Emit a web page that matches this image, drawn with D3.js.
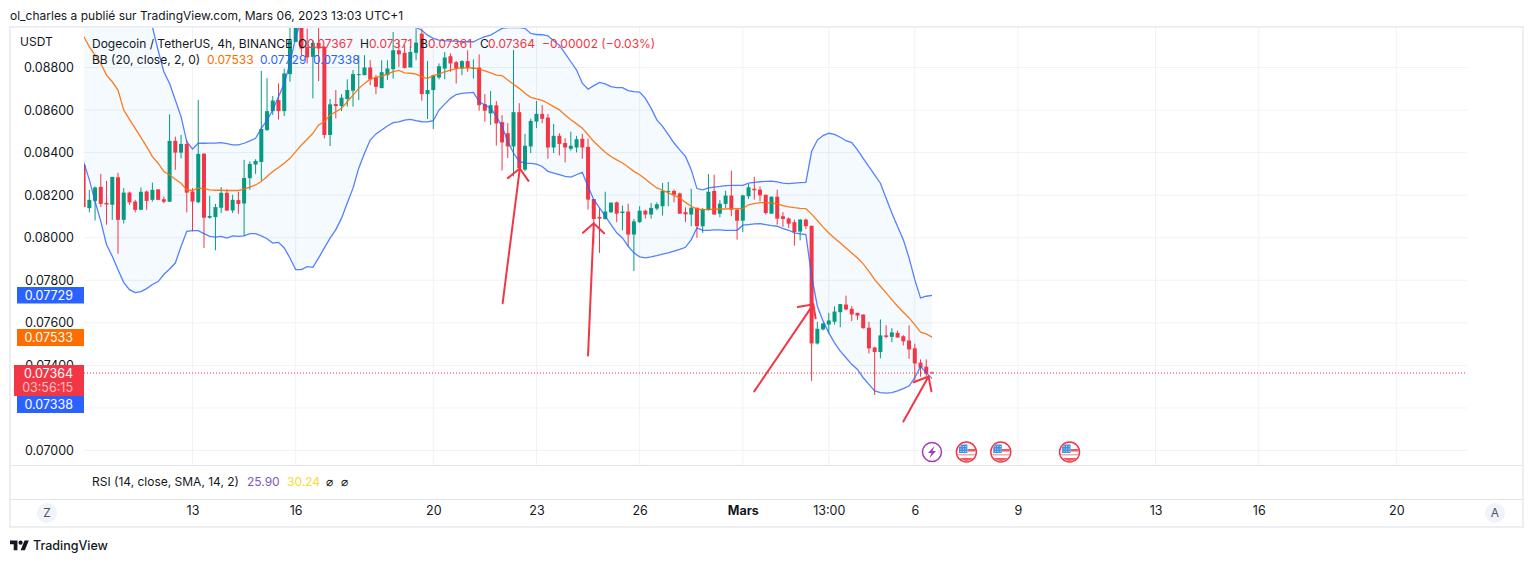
<!DOCTYPE html>
<html>
<head>
<meta charset="utf-8">
<title>DOGEUSDT</title>
<script src="https://cdn.jsdelivr.net/npm/d3@7/dist/d3.min.js"></script>
<style>
html, body { margin: 0; background: #fff; overflow: hidden; }
text { font-family: Inter, "Noto Sans", sans-serif; font-size: 12px; fill: #131722; }
</style>
</head>
<body>
<div id="chart"></div>
<script>
// all prices in 1e-5 USDT, one entry per 4h candle
const open = [8342,8139,8173,8239,8164,8155,8284,8084,8212,8170,
8131,8217,8178,8227,8181,8169,8455,8400,8441,8217,
8167,8395,8094,8097,8141,8211,8128,8177,8161,8280,
8344,8356,8506,8595,8647,8595,8769,8920,9000,8897,
8850,8916,8897,8483,8628,8619,8652,8691,8766,8764,
8800,8752,8703,8764,8792,8881,8869,8800,8869,8959,
8675,8694,8753,8795,8853,8825,8795,8830,8795,8800,
8628,8584,8622,8543,8491,8429,8590,8320,8429,8546,
8582,8565,8424,8479,8445,8418,8424,8465,8427,8182,
8098,8088,8120,8166,8116,8123,8015,8073,8127,8109,
8137,8148,8217,8220,8208,8120,8109,8141,8054,8132,
8220,8113,8159,8198,8132,8080,8195,8230,8226,8202,
8113,8193,8101,8090,8073,8029,8085,8056,7503,7569,
7592,7605,7650,7686,7666,7647,7639,7577,7484,7463,
7541,7534,7553,7537,7517,7480,7413,7394,7367];
const high = [8350,8225,8241,8300,8267,8286,8305,8233,8217,8178,
8236,8222,8259,8228,8194,8580,8475,8483,8459,8233,
8647,8397,8197,8159,8238,8228,8202,8216,8366,8359,
8369,8784,8750,8666,8725,8795,8991,9060,9050,8983,
8928,8991,8900,8652,8694,8675,8744,8788,8858,8858,
8834,8764,8834,8834,8967,8928,8905,8897,8983,8983,
8831,8763,8819,8873,8866,8830,8834,8881,8838,8862,
8675,8689,8642,8576,8538,8882,8632,8488,8560,8643,
8624,8582,8535,8491,8468,8498,8479,8488,8466,8182,
8140,8216,8165,8170,8151,8160,8088,8148,8132,8163,
8166,8257,8262,8226,8212,8143,8230,8141,8140,8299,
8296,8177,8221,8315,8135,8202,8252,8287,8241,8202,
8193,8226,8120,8096,8085,8088,8090,8056,7605,7600,
7647,7677,7688,7728,7678,7647,7639,7605,7488,7616,
7589,7575,7563,7542,7588,7502,7428,7428,7371];
const low = [8144,8119,8081,8144,8061,8084,7925,8067,8155,8119,
8131,8131,8170,8178,8162,8169,8319,8373,8119,8030,
8162,7952,8089,7941,8116,8125,8116,8113,8009,8225,
8300,8267,8503,8577,8556,8572,8733,8920,8858,8819,
8655,8736,8467,8431,8561,8595,8616,8616,8647,8764,
8717,8675,8703,8741,8748,8803,8795,8803,8834,8644,
8558,8511,8744,8745,8780,8725,8764,8780,8748,8597,
8545,8530,8433,8316,8374,8288,8320,8312,8398,8515,
8538,8371,8398,8387,8354,8409,8401,8371,8132,7968,
7929,8085,8116,8073,8035,7960,7843,8070,8090,8090,
8129,8104,8148,8166,8113,8074,8054,7999,8023,8127,
8109,8096,8140,8101,7991,8026,8182,8179,8171,8109,
8113,8062,8051,8046,7963,7988,8041,7327,7498,7564,
7550,7592,7580,7658,7608,7613,7573,7456,7261,7433,
7527,7509,7531,7494,7431,7327,7347,7350,7361];
const close = [8144,8178,8236,8159,8156,8286,8084,8212,8166,8131,
8216,8173,8225,8178,8169,8455,8400,8441,8212,8170,
8394,8094,8102,8144,8211,8128,8178,8159,8281,8347,
8361,8511,8595,8645,8595,8772,8928,9000,8889,8847,
8916,8889,8483,8627,8619,8658,8694,8769,8769,8800,
8744,8709,8778,8795,8881,8862,8798,8873,8917,8675,
8694,8763,8806,8847,8819,8795,8830,8797,8798,8623,
8597,8623,8537,8448,8429,8590,8327,8432,8549,8582,
8559,8424,8479,8441,8424,8432,8463,8424,8179,8088,
8090,8123,8165,8113,8123,8015,8077,8127,8109,8140,
8157,8220,8220,8202,8113,8110,8141,8054,8135,8216,
8109,8160,8198,8132,8080,8199,8237,8223,8199,8116,
8193,8090,8088,8066,8027,8085,8054,7503,7572,7597,
7611,7653,7688,7663,7639,7634,7575,7480,7463,7541,
7534,7555,7531,7513,7475,7409,7389,7361,7364];

// bollinger bands, the off-chart stretches of the upper one are estimates
const bbUpper = [9538,9522,9546,9561,9561,9553,9538,9411,9356,9286,
9197,9095,8991,8881,8780,8725,8647,8569,8452,8417,
8444,8444,8445,8445,8447,8442,8436,8436,8444,8455,
8467,8514,8553,8600,8663,8725,8819,8944,9022,9062,
9121,9155,9138,9156,9146,9124,9115,9107,9077,9053,
9031,9018,9012,9013,9021,9028,8997,8990,8988,8975,
8952,8937,8929,8926,8924,8924,8921,8921,8921,8934,
8945,8952,8968,8984,8988,8988,8987,8984,8960,8955,
8954,8949,8926,8905,8866,8827,8788,8726,8698,8715,
8730,8723,8710,8705,8705,8691,8687,8684,8655,8609,
8554,8523,8484,8445,8413,8382,8320,8231,8225,8234,
8238,8241,8245,8246,8246,8246,8257,8260,8263,8265,
8266,8262,8257,8254,8257,8259,8260,8405,8459,8480,
8491,8486,8472,8456,8447,8413,8373,8334,8295,8256,
8186,8116,8053,7991,7905,7803,7717,7725,7729];
const bbBasis = [8947,8897,8858,8819,8764,8733,8694,8600,8556,8514,
8472,8428,8381,8350,8311,8295,8275,8256,8225,8222,
8233,8231,8225,8223,8223,8222,8222,8222,8228,8238,
8248,8264,8288,8311,8330,8350,8373,8405,8436,8463,
8491,8530,8545,8577,8592,8608,8639,8670,8702,8725,
8745,8753,8759,8769,8781,8786,8775,8773,8769,8756,
8748,8763,8769,8780,8788,8795,8798,8798,8798,8792,
8784,8775,8764,8762,8741,8721,8702,8679,8660,8652,
8645,8632,8616,8601,8577,8554,8535,8515,8484,8452,
8426,8402,8382,8366,8351,8332,8312,8296,8276,8254,
8234,8223,8211,8199,8187,8166,8148,8135,8132,8132,
8134,8135,8135,8137,8137,8137,8155,8160,8165,8165,
8163,8159,8151,8145,8141,8138,8137,8111,8081,8050,
8022,7998,7975,7952,7928,7905,7877,7842,7803,7772,
7741,7709,7678,7650,7623,7592,7556,7548,7533];
const bbLower = [8356,8272,8170,8077,7967,7913,7850,7789,7756,7742,
7747,7761,7780,7794,7827,7853,7881,7959,8030,8033,
8033,8019,8006,8003,8006,7998,8009,8006,8009,8019,
8019,8009,7995,7975,7978,7952,7905,7850,7850,7864,
7861,7905,7952,7998,8038,8092,8163,8233,8327,8397,
8459,8488,8506,8525,8541,8544,8553,8556,8550,8545,
8544,8550,8600,8628,8655,8673,8678,8681,8683,8640,
8624,8609,8570,8523,8452,8398,8359,8351,8349,8346,
8335,8312,8304,8296,8288,8285,8296,8307,8241,8179,
8140,8101,8062,8023,7999,7960,7929,7910,7905,7910,
7916,7923,7929,7937,7945,7955,7991,8046,8035,8035,
8037,8037,8035,8035,8035,8059,8062,8065,8066,8062,
8057,8054,8043,8035,8023,8018,8015,7819,7678,7608,
7553,7506,7467,7436,7405,7381,7342,7311,7280,7272,
7270,7272,7280,7291,7303,7342,7394,7366,7338];

const gridPrices = [8800,8600,8400,8200,8000,7800,7600,7400,7200,7000];
const labelPrices = [8800,8600,8400,8200,8000,7800,7600,7400,7000];
const timeIdx = [19,37,61,79,97,115,130,145,163,187,205,229];
const timeLabels = ["13","16","20","23","26","Mars","13:00","6","9","13","16","20"];
const eventIdx = [148,154,160,172];
const eventKinds = ["bolt","flag","flag","flag"];

// hand drawn arrows: tail, tip, wing, wing as [candle index, price]
const arrows = [
  [[73.1,7692],[76.1,8326],[74.0,8280],[77.6,8267]],
  [[88.0,7447],[89.0,8068],[87.1,8023],[90.8,8021]],
  [[117.0,7278],[127.3,7687],[124.6,7674],[127.7,7621]],
  [[143.0,7136],[147.4,7348],[144.8,7321],[147.9,7278]]
];

const width = 1533, height = 562;
const red = "#f23645", green = "#089981", blue = "#2962ff", orange = "#ff6d00";
const plot = { left: 84, right: 1467, top: 28, bottom: 465 };
const fmt = d => (d / 1e5).toFixed(5);

const x = d3.scaleLinear().domain([0, 229]).range([83.6, 1396.3]);
const y = d3.scaleLinear().domain([7000, 8800]).range([450.5, 67.5]);

const svg = d3.select("#chart").append("svg")
  .attr("width", width)
  .attr("height", height)
  .style("display", "block");

const defs = svg.append("defs");
defs.append("clipPath").attr("id", "plot-clip")
  .append("rect")
  .attr("x", plot.left).attr("y", plot.top)
  .attr("width", plot.right - plot.left).attr("height", plot.bottom - plot.top);
defs.append("clipPath").attr("id", "flag-clip")
  .append("circle").attr("r", 9);

// frame
svg.append("rect")
  .attr("x", 10).attr("y", 27).attr("width", 1513).attr("height", 500)
  .attr("fill", "none").attr("stroke", "#eceef4").attr("stroke-width", 2);
svg.append("line").attr("x1", 11).attr("x2", 1522).attr("y1", 465.5).attr("y2", 465.5).attr("stroke", "#e0e3eb");
svg.append("line").attr("x1", 11).attr("x2", 1522).attr("y1", 499.5).attr("y2", 499.5).attr("stroke", "#e0e3eb");

svg.append("text").attr("x", 10).attr("y", 20).text("ol_charles a publié sur TradingView.com, Mars 06, 2023 13:03 UTC+1");

// grid
const grid = svg.append("g").attr("fill", "none").attr("stroke", "#f0f2f5");
grid.selectAll(".gh").data(gridPrices).join("line").attr("class", "gh")
  .attr("x1", plot.left).attr("x2", plot.right)
  .attr("y1", d => y(d)).attr("y2", d => y(d));
grid.selectAll(".gv").data(timeIdx).join("line").attr("class", "gv")
  .attr("x1", d => x(d)).attr("x2", d => x(d))
  .attr("y1", plot.top).attr("y2", plot.bottom);

const chart = svg.append("g").attr("clip-path", "url(#plot-clip)");

// band fill
const area = d3.area().x((d, i) => x(i)).y0((d, i) => y(bbLower[i])).y1(d => y(d));
chart.append("path").datum(bbUpper)
  .attr("d", area)
  .attr("fill", "#2196f3").attr("fill-opacity", 0.05);

// candles
const candles = chart.selectAll(".candle").data(d3.range(open.length)).join("g").attr("class", "candle");
candles.append("line")
  .attr("x1", i => x(i)).attr("x2", i => x(i))
  .attr("y1", i => y(high[i])).attr("y2", i => y(low[i]))
  .attr("stroke", i => close[i] < open[i] ? red : green);
candles.append("rect")
  .attr("x", i => x(i) - 2)
  .attr("width", 4)
  .attr("y", i => y(Math.max(open[i], close[i])))
  .attr("height", i => Math.max(1, Math.abs(y(open[i]) - y(close[i]))))
  .attr("fill", i => close[i] < open[i] ? red : green);

// band lines
const bbLine = d3.line().x((d, i) => x(i)).y(d => y(d));
chart.append("path").datum(bbUpper).attr("d", bbLine).attr("fill", "none").attr("stroke", blue).attr("stroke-opacity", 0.8).attr("stroke-width", 1.3);
chart.append("path").datum(bbLower).attr("d", bbLine).attr("fill", "none").attr("stroke", blue).attr("stroke-opacity", 0.8).attr("stroke-width", 1.3);
chart.append("path").datum(bbBasis).attr("d", bbLine).attr("fill", "none").attr("stroke", orange).attr("stroke-opacity", 0.9).attr("stroke-width", 1.3);

// last price line
svg.append("line")
  .attr("x1", plot.left).attr("x2", plot.right)
  .attr("y1", y(close[close.length - 1])).attr("y2", y(close[close.length - 1]))
  .attr("stroke", red).attr("stroke-dasharray", "1 2");

// arrows
const arrowGroup = svg.append("g").attr("fill", "none").attr("stroke", red).attr("stroke-width", 2).attr("stroke-linecap", "round");
arrows.forEach(a => {
  const p = a.map(d => [x(d[0]), y(d[1])]);
  arrowGroup.append("path").attr("d", d3.line()([p[0], p[1]]));
  arrowGroup.append("path").attr("d", d3.line()([p[2], p[1], p[3]]));
});

// price axis
const yAxis = d3.axisLeft(y).tickValues(labelPrices).tickFormat(fmt).tickSize(0).tickPadding(0);
const yg = svg.append("g").attr("transform", "translate(74,0)").call(yAxis);
yg.select(".domain").remove();
yg.selectAll("text").style("font-size", "12.5px").style("font-family", "Inter, sans-serif").attr("fill", "#131722");

svg.append("text").attr("x", 20).attr("y", 45.5).text("USDT");

// price tags
function tag(left, top, h, color, label) {
  svg.append("rect").attr("x", left).attr("y", top).attr("width", 84 - left).attr("height", h).attr("fill", color);
  svg.append("text").attr("x", 73).attr("y", top + 13).attr("text-anchor", "end").style("fill", "#fff").style("font-size", "12.5px").text(label);
}
tag(17, 287, 16.5, blue, fmt(bbUpper[148]));
tag(17, 329, 17, orange, fmt(bbBasis[148]));
tag(14, 365, 31, red, fmt(close[148]));
svg.append("text").attr("x", 73).attr("y", 392).attr("text-anchor", "end").style("fill", "#fff").style("fill-opacity", 0.7).style("font-size", "12.5px").text("03:56:15");
tag(17, 396, 17, blue, fmt(bbLower[148]));

// legend
const legend = [
  [92, 47.5, "Dogecoin / TetherUS, 4h, BINANCE", "#131722"],
  [298, 47.5, "O", "#131722"], [307, 47.5, fmt(open[148]), red],
  [360, 47.5, "H", "#131722"], [369, 47.5, fmt(high[148]), red],
  [420, 47.5, "B", "#131722"], [428, 47.5, fmt(low[148]), red],
  [480, 47.5, "C", "#131722"], [488, 47.5, fmt(close[148]), red],
  [542, 47.5, "−0.00002 (−0.03%)", red],
  [92, 64, "BB (20, close, 2, 0)", "#131722"],
  [207, 64, fmt(bbBasis[148]), orange],
  [260, 64, fmt(bbUpper[148]), blue],
  [313, 64, fmt(bbLower[148]), blue],
  [92, 486, "RSI (14, close, SMA, 14, 2)", "#131722"],
  [247, 486, "25.90", "#7e57c2"],
  [287, 486, "30.24", "#fdd835"],
  [326, 486, "⌀", "#131722"],
  [341, 486, "⌀", "#131722"]
];
svg.append("g").selectAll("text").data(legend).join("text")
  .attr("x", d => d[0]).attr("y", d => d[1])
  .style("fill", d => d[3])
  .text(d => d[2]);

// event icons
const eventY = 452;
eventIdx.forEach((idx, n) => {
  const g = svg.append("g").attr("transform", `translate(${x(idx)},${eventY})`);
  if (eventKinds[n] === "bolt") {
    g.append("circle").attr("r", 9.5).attr("fill", "#fff").attr("stroke", "#9c3fb5").attr("stroke-width", 1.5);
    g.append("path").attr("d", "M2.5,-6 L-4,1 L-0.5,1 L-2.5,6 L4,-1 L0.5,-1 Z").attr("fill", "#9c3fb5");
  } else {
    g.append("circle").attr("r", 10).attr("fill", "#fff").attr("stroke", red).attr("stroke-width", 1.5);
    const f = g.append("g").attr("clip-path", "url(#flag-clip)");
    f.append("rect").attr("x", 1).attr("y", -3).attr("width", 9).attr("height", 2.5).attr("fill", "#f0595f");
    f.append("rect").attr("x", -9).attr("y", 6).attr("width", 18).attr("height", 3).attr("fill", "#f0595f");
    f.append("rect").attr("x", -9).attr("y", 2).attr("width", 18).attr("height", 1.5).attr("fill", "#f7a5a8");
    f.append("rect").attr("x", -7.5).attr("y", -7.5).attr("width", 8.5).attr("height", 8.5).attr("fill", "#3d8fe0");
    for (const dx of [-6, -3.5, -1]) for (const dy of [-6, -3.5, -1]) {
      f.append("rect").attr("x", dx).attr("y", dy).attr("width", 1).attr("height", 1).attr("fill", "#cfe3f8");
    }
  }
});

// time axis
const xAxis = d3.axisBottom(x).tickValues(timeIdx).tickFormat((d, i) => timeLabels[i]).tickSize(0).tickPadding(0);
const xg = svg.append("g").attr("transform", "translate(0,506)").call(xAxis);
xg.select(".domain").remove();
xg.selectAll("text")
  .style("font-size", "12.5px")
  .style("font-family", "Inter, sans-serif")
  .style("font-weight", d => d === 115 ? 700 : 400)
  .attr("fill", "#131722");

[[47, "Z"], [1495, "A"]].forEach(b => {
  svg.append("circle").attr("cx", b[0]).attr("cy", 513).attr("r", 10).attr("fill", "#f0f3fa");
  svg.append("text").attr("x", b[0]).attr("y", 517).attr("text-anchor", "middle").style("font-size", "12px").style("fill", "#50535e").text(b[1]);
});

// footer logo
const logo = svg.append("g").attr("transform", "translate(10,538.5) scale(0.53)").attr("fill", "#131722");
logo.append("path").attr("d", "M14 22H7V11H0V4h14v18zM28 22h-8l7.5-18h8L28 22z");
logo.append("circle").attr("cx", 20).attr("cy", 8).attr("r", 4);
svg.append("text").attr("x", 33).attr("y", 550).style("font-size", "12.5px").style("font-weight", 500).text("TradingView");
</script>
</body>
</html>
